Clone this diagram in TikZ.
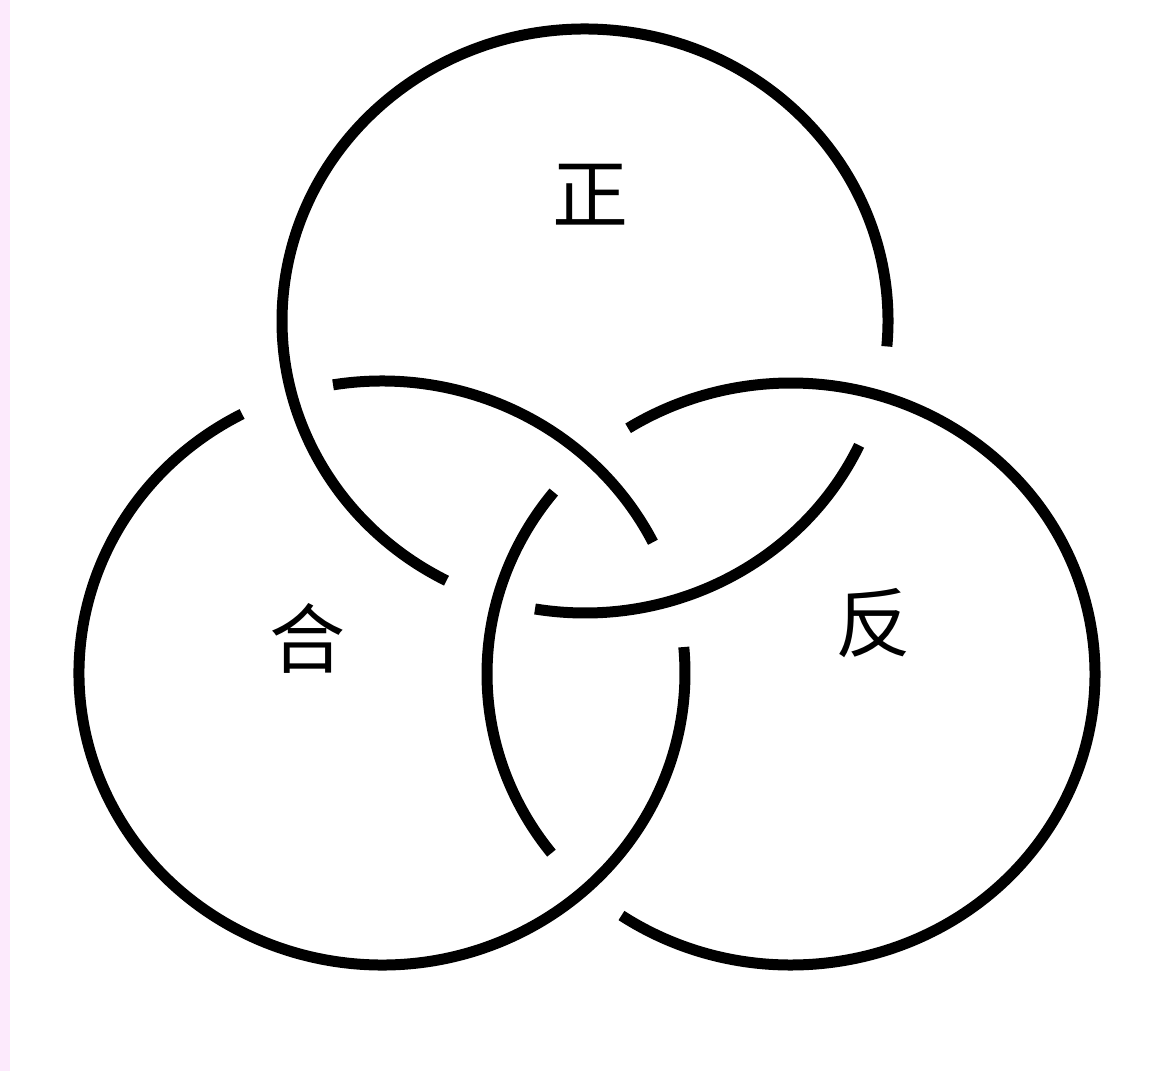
\documentclass[tikz,border=0pt]{standalone}
\usepackage{fontspec}
\newfontfamily\cjk{Noto Sans CJK SC}
\definecolor{stripcol}{RGB}{252,234,252}
\tikzset{
  ring/.style={line width=5.5pt, black, line cap=butt},
  lbl/.style={font=\cjk\fontsize{38}{38}\selectfont, inner sep=0pt}
}
\begin{document}
\begin{tikzpicture}[x=0.5pt,y=0.5pt]
\useasboundingbox (0,0) rectangle (1153,1071);
\fill[white] (0,0) rectangle (1153,1071);
\fill[stripcol] (0,0) rectangle (10,1071);
\coordinate (T) at (585,750);
\coordinate (L) at (382,398);
\coordinate (R) at (791,397);
% top ring
\draw[ring] ([shift={(T)}]-5:303 and 292) arc[start angle=-5, end angle=242.8, x radius=303, y radius=292];
\draw[ring] ([shift={(T)}]-99.5:303 and 292) arc[start angle=-99.5, end angle=-25.2, x radius=303, y radius=292];
% left ring
\draw[ring] ([shift={(L)}]26.6:303 and 292) arc[start angle=26.6, end angle=99.3, x radius=303, y radius=292];
\draw[ring] ([shift={(L)}]117.5:303 and 292) arc[start angle=117.5, end angle=365.1, x radius=303, y radius=292];
% right ring
\draw[ring] ([shift={(R)}]-123.9:304 and 291) arc[start angle=-123.9, end angle=122.4, x radius=304, y radius=291];
\draw[ring] ([shift={(R)}]141.3:304 and 291) arc[start angle=141.3, end angle=218, x radius=304, y radius=291];
% labels
\node[lbl] (zheng) at (590,876) {正};
\node[lbl] (he) at (307,433) {合};
\node[lbl] (fan) at (873,448) {反};
\end{tikzpicture}
\end{document}
